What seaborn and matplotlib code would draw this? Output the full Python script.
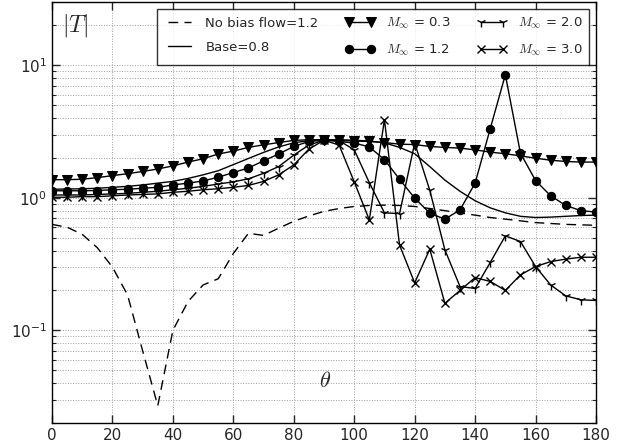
import numpy as np
import pandas as pd
import matplotlib
matplotlib.use("Agg")
import matplotlib.pyplot as plt
import seaborn as sns

theta = list(range(0, 181, 5))

no_bias = [0.63, 0.60, 0.53, 0.42, 0.30, 0.185, 0.07, 0.027, 0.10, 0.165,
           0.22, 0.245, 0.38, 0.54, 0.52, 0.59, 0.665, 0.73, 0.79, 0.83,
           0.86, 0.875, 0.88, 0.875, 0.86, 0.83, 0.80, 0.77, 0.74, 0.71,
           0.69, 0.67, 0.65, 0.64, 0.63, 0.625, 0.62]

base = [1.16, 1.165, 1.17, 1.18, 1.20, 1.22, 1.25, 1.29, 1.33, 1.40,
        1.49, 1.60, 1.78, 1.98, 2.20, 2.42, 2.60, 2.70, 2.74, 2.74,
        2.72, 2.68, 2.60, 2.40, 2.15, 1.72, 1.36, 1.12, 0.95, 0.84,
        0.77, 0.725, 0.71, 0.715, 0.725, 0.735, 0.74]

m03 = [1.37, 1.37, 1.38, 1.42, 1.47, 1.52, 1.58, 1.65, 1.74, 1.86,
       1.97, 2.14, 2.25, 2.40, 2.51, 2.61, 2.71, 2.74, 2.74, 2.71,
       2.68, 2.66, 2.61, 2.54, 2.52, 2.44, 2.40, 2.37, 2.30, 2.21,
       2.15, 2.07, 1.99, 1.92, 1.88, 1.86, 1.86]

m12 = [1.13, 1.13, 1.13, 1.135, 1.15, 1.16, 1.18, 1.20, 1.25, 1.29,
       1.34, 1.43, 1.55, 1.68, 1.90, 2.14, 2.44, 2.66, 2.72, 2.66,
       2.59, 2.42, 1.94, 1.38, 0.995, 0.766, 0.69, 0.81, 1.29, 3.32,
       8.48, 2.17, 1.35, 1.035, 0.875, 0.80, 0.78]

m20 = [1.05, 1.05, 1.05, 1.06, 1.07, 1.08, 1.10, 1.12, 1.15, 1.18,
       1.22, 1.27, 1.32, 1.39, 1.53, 1.72, 2.10, 2.50, 2.72, 2.70,
       2.30, 1.30, 0.77, 0.76, 2.59, 1.14, 0.405, 0.214, 0.207, 0.325,
       0.516, 0.468, 0.303, 0.22, 0.182, 0.17, 0.168]

m30 = [1.01, 1.01, 1.02, 1.02, 1.035, 1.05, 1.06, 1.07, 1.10, 1.12,
       1.15, 1.17, 1.20, 1.24, 1.33, 1.49, 1.77, 2.33, 2.72, 2.50,
       1.32, 0.68, 3.88, 0.44, 0.228, 0.41, 0.16, 0.20, 0.25, 0.234,
       0.20, 0.262, 0.303, 0.33, 0.345, 0.356, 0.356]

labels = ["No bias flow=1.2", "Base=0.8",
          r"$M_\infty$ = 0.3", r"$M_\infty$ = 1.2",
          r"$M_\infty$ = 2.0", r"$M_\infty$ = 3.0"]

sns.set_style("ticks")
plt.rcParams["font.family"] = ["DejaVu Sans"]
plt.rcParams["mathtext.fontset"] = "cm"
plt.rcParams["xtick.direction"] = "in"
plt.rcParams["ytick.direction"] = "in"

fig = plt.figure(figsize=(6.4, 4.45), dpi=100)
ax = fig.add_axes([52 / 640, 1 - 423 / 445, (596 - 52) / 640, (423 - 2) / 445])

series = [no_bias, base, m03, m12, m20, m30]
styles = [dict(linestyle=(0, (7, 4.5)), marker=None),
          dict(linestyle="-", marker=None),
          dict(linestyle="-", marker="v", markersize=6.5),
          dict(linestyle="-", marker="o", markersize=6),
          dict(linestyle="-", marker="1", markersize=7, markeredgewidth=1.0),
          dict(linestyle="-", marker="x", markersize=5.5, markeredgewidth=1.0)]

for vals, lab, st in zip(series, labels, styles):
    df = pd.DataFrame({"theta": theta, "T": vals})
    sns.lineplot(data=df, x="theta", y="T", ax=ax, color="k", linewidth=1.0,
                 label=lab, estimator=None, sort=False,
                 markeredgecolor="k", markerfacecolor="k", **st)

ax.set_yscale("log")
ax.set_xlim(0, 180)
ax.set_ylim(0.02, 30)
ax.set_xticks(range(0, 181, 20))
ax.set_xlabel("")
ax.set_ylabel("")
ax.tick_params(which="both", top=True, right=True, labelsize=11)
ax.tick_params(which="major", length=6, width=1)
ax.tick_params(which="minor", length=3, width=0.8)
ax.grid(True, which="major", axis="both", color="0.62", linestyle=":", linewidth=0.7)
ax.grid(True, which="minor", axis="y", color="0.62", linestyle=":", linewidth=0.7)
for s in ax.spines.values():
    s.set_linewidth(1.0)
    s.set_color("k")

ax.text(0.018, 0.945, r"$|T|$", transform=ax.transAxes, fontsize=17,
        ha="left", va="center")
ax.text(0.502, 0.10, r"$\theta$", transform=ax.transAxes, fontsize=16,
        ha="center", va="center")

leg = ax.legend(loc="upper right", ncol=3, numpoints=2, fontsize=9.5,
                frameon=True, fancybox=False, handlelength=2.3,
                columnspacing=2.0, borderaxespad=0.5, labelspacing=0.85,
                borderpad=0.55)
leg.get_frame().set_edgecolor("k")
leg.get_frame().set_linewidth(1.0)

fig.savefig("out.png", dpi=100)
